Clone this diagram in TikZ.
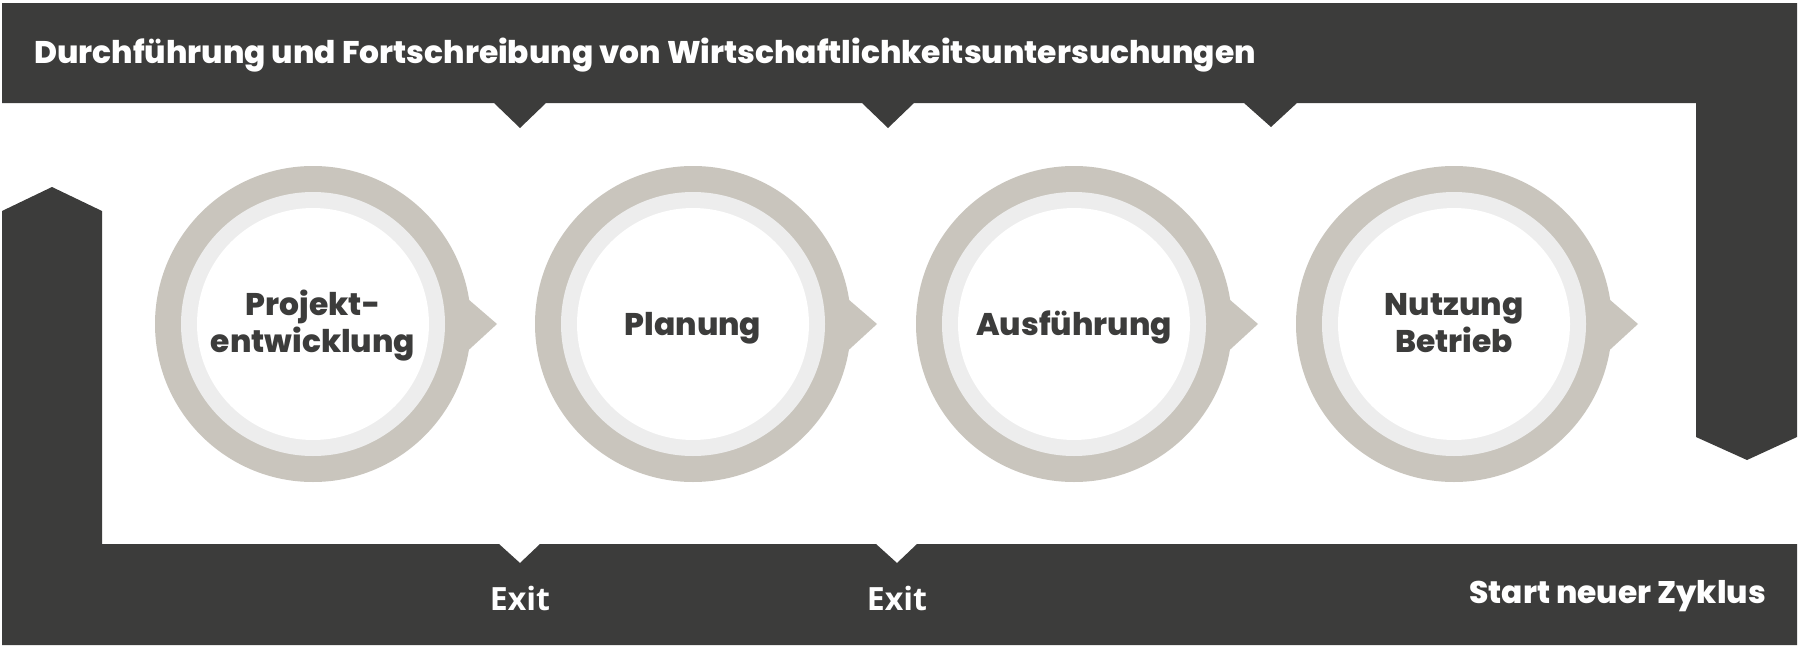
\documentclass[tikz,border=0pt]{standalone}
\usepackage{fontspec}
\newfontfamily\popx{Poppins ExtraBold}
\newfontfamily\osans{Open Sans}
\definecolor{darkbar}{HTML}{3C3C3B}
\definecolor{taupe}{HTML}{C9C5BD}
\definecolor{lightring}{HTML}{EDEDED}
\definecolor{circtext}{HTML}{3C3C3B}
\begin{document}
\begin{tikzpicture}[x=1pt,y=-1pt,
  bar/.style={fill=darkbar,draw=none},
  outerring/.style={circle,fill=taupe,draw=none,minimum size=316pt,inner sep=0pt},
  midring/.style={circle,fill=lightring,draw=none,minimum size=264pt,inner sep=0pt},
  innerdisc/.style={circle,fill=white,draw=none,minimum size=232pt,inner sep=0pt},
  pointer/.style={fill=taupe,draw=none},
  phase/.style={font=\popx\fontsize{31.3}{37}\selectfont,text=circtext,inner sep=0pt,anchor=base},
  titletext/.style={font=\popx\fontsize{31.3}{36}\selectfont,text=white,inner sep=0pt},
  exittext/.style={font=\osans\bfseries\fontsize{32}{38}\selectfont,text=white,inner sep=0pt},
  starttext/.style={font=\popx\fontsize{31.2}{34}\selectfont,text=white,inner sep=0pt}]
\useasboundingbox (0,0) rectangle (1800,648);
\fill[white] (0,0) rectangle (1800,648);
% top bar with notches and right descending arrow
\fill[bar] (2,3) -- (1797,3) -- (1797,437) -- (1747,460) -- (1696,437) -- (1696,103)
  -- (1297,103) -- (1271,127) -- (1244,103)
  -- (914,103) -- (888,128) -- (862,103)
  -- (546,103) -- (520,128) -- (494,103)
  -- (2,103) -- cycle;
% left ascending arrow and bottom bar with exit notches
\fill[bar] (2,645) -- (1797,645) -- (1797,544)
  -- (917,544) -- (897,563) -- (876,544)
  -- (540,544) -- (520,563) -- (499,544)
  -- (102,544) -- (102,211) -- (52,187) -- (2,211) -- cycle;
% circles
\foreach \n/\cx in {1/313,2/693,3/1074,4/1454}{
  \node[outerring] (o\n) at (\cx,324) {};
  \fill[pointer] (\cx+148,293) -- (\cx+184,324) -- (\cx+148,357) -- cycle;
  \node[midring] (m\n) at (\cx,324) {};
  \node[innerdisc] (c\n) at (\cx,324) {};
}
\node[phase] (t1a) at ([yshift=9pt]c1.center) {Projekt-};
\node[phase] (t1b) at ([yshift=-28pt]c1.center) {entwicklung};
\node[phase] (t2) at ([yshift=-11pt]c2.center) {Planung};
\node[phase] (t3) at ([yshift=-11pt]c3.center) {Ausführung};
\node[phase] (t4a) at ([yshift=9pt]c4.center) {Nutzung};
\node[phase] (t4b) at ([yshift=-28pt]c4.center) {Betrieb};
% texts on bars
\node[titletext,anchor=base west] (title) at (34,63) {Durchführung und Fortschreibung von Wirtschaftlichkeitsuntersuchungen};
\node[exittext,anchor=base] (exit1) at (520,610) {Exit};
\node[exittext,anchor=base] (exit2) at (897,610) {Exit};
\node[starttext,anchor=base east] (start) at (1766,603) {Start neuer Zyklus};
\end{tikzpicture}
\end{document}
